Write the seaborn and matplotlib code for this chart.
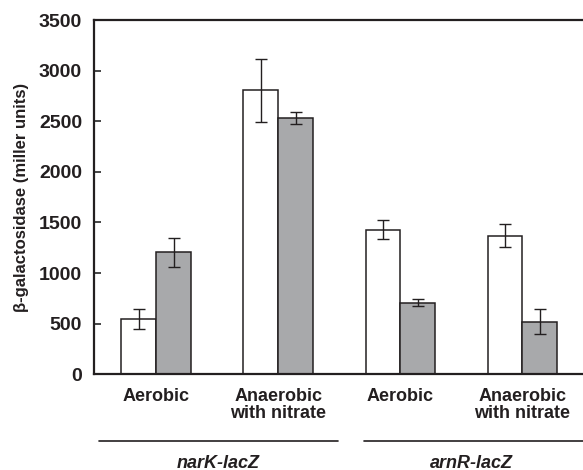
import matplotlib
matplotlib.use("Agg")
import matplotlib.pyplot as plt
import matplotlib.transforms as mtransforms
import seaborn as sns
import pandas as pd
import numpy as np

categories = ["narK Aerobic", "narK Anaerobic", "arnR Aerobic", "arnR Anaerobic"]
tick_labels = ["Aerobic", "Anaerobic\nwith nitrate", "Aerobic", "Anaerobic\nwith nitrate"]
series_names = ["A", "B"]
values_a = [545, 2805, 1430, 1370]
errors_a = [100, 308, 90, 116]
values_b = [1203, 2535, 708, 518]
errors_b = [141, 58, 36, 124]
groups = ["narK-lacZ", "arnR-lacZ"]

sns.set_style("white")
plt.rcParams['font.family'] = ['Liberation Sans', 'DejaVu Sans']

df = pd.DataFrame({
    "cat": categories * 2,
    "series": [series_names[0]] * 4 + [series_names[1]] * 4,
    "value": values_a + values_b,
})
errs = [errors_a, errors_b]

fig = plt.figure(figsize=(5.83, 4.70), dpi=100)
ax = fig.add_axes([0.161, 0.204, 0.839 + 0.002, 0.753])

sns.barplot(data=df, x="cat", y="value", hue="series", order=categories,
            hue_order=series_names, palette=["#ffffff", "#a7a9ac"],
            width=0.57, errorbar=None, edgecolor="#231f20", linewidth=1.1,
            legend=False, ax=ax)

for cont, err in zip(ax.containers, errs):
    xs = [p.get_x() + p.get_width() / 2 for p in cont]
    hs = [p.get_height() for p in cont]
    ax.errorbar(xs, hs, yerr=err, fmt="none", ecolor="#231f20",
                elinewidth=1.0, capsize=4, capthick=1.0, zorder=5)

ax.set_xlim(-0.51, 3.505)
ax.set_ylim(0, 3500)
ax.set_yticks(np.arange(0, 3501, 500))
ax.tick_params(axis="y", direction="in", length=5, width=1.2, left=True,
               labelsize=14, pad=8.5, labelcolor="#231f20")
for t in ax.get_yticklabels():
    t.set_fontweight("bold")
ax.set_xticks(range(4))
ax.set_xticklabels(tick_labels, fontsize=13, fontweight="bold", color="#231f20",
                   linespacing=1.0)
ax.tick_params(axis="x", length=0, pad=10)
ax.set_xlabel("")
ax.set_ylabel("β-galactosidase (miller units)", fontsize=12, fontweight="bold",
              color="#231f20", labelpad=7)
for s in ax.spines.values():
    s.set_visible(True)
    s.set_linewidth(1.6)
    s.set_color("#231f20")

trans = mtransforms.blended_transform_factory(ax.transData, fig.transFigure)
line_y = (470 - 441) / 470
text_y = (470 - 463) / 470
spans = [(-0.467, 1.49), (1.70, 3.52)]
text_x = [0.51, 2.58]
for (x0, x1), tx, g in zip(spans, text_x, groups):
    ax.plot([x0, x1], [line_y, line_y], transform=trans, color="#231f20",
            lw=1.2, clip_on=False)
    ax.text(tx, text_y, g, transform=trans,
            ha="center", va="center", fontsize=13, fontweight="bold",
            style="italic", color="#231f20")

fig.savefig("out.png", dpi=100)
